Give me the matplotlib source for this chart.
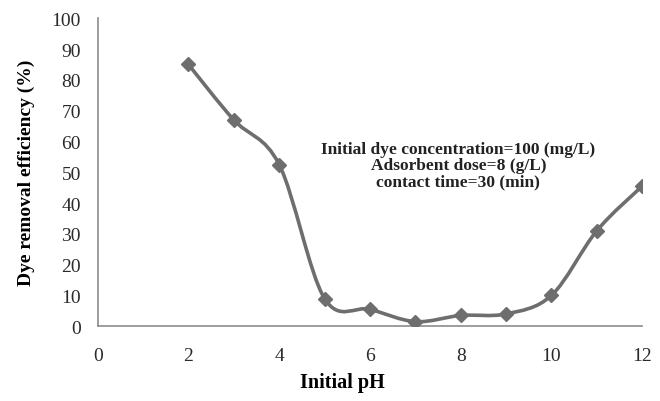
import numpy as np
import matplotlib
matplotlib.use("Agg")
import matplotlib.pyplot as plt
from matplotlib.path import Path
from matplotlib.patches import PathPatch

# data
ph = [2, 3, 4, 5, 6, 7, 8, 9, 10, 11, 12]
removal = [85, 67, 52.5, 9, 5.5, 1.5, 3.5, 4, 10, 31, 45.5]
x_ticks = [0, 2, 4, 6, 8, 10, 12]
y_ticks = [0, 10, 20, 30, 40, 50, 60, 70, 80, 90, 100]
note_lines = ["Initial dye concentration=100 (mg/L)",
              "Adsorbent dose=8 (g/L)",
              "contact time=30 (min)"]

plt.rcParams['font.family'] = ['Liberation Serif', 'DejaVu Serif']
line_color = '#6e6e6e'


def smooth_path(xs, ys):
    # Excel-like smoothed line: cubic Bezier segments through the points
    pts = np.column_stack([xs, ys]).astype(float)
    n = len(pts)
    verts = [pts[0]]
    codes = [Path.MOVETO]
    for i in range(n - 1):
        p0 = pts[i - 1] if i > 0 else pts[i]
        p1 = pts[i]
        p2 = pts[i + 1]
        p3 = pts[i + 2] if i + 2 < n else pts[i + 1]
        c1 = p1 + (p2 - p0) / 6.0
        c2 = p2 - (p3 - p1) / 6.0
        verts += [c1, c2, p2]
        codes += [Path.CURVE4] * 3
    return Path(verts, codes)


fig = plt.figure(figsize=(6.6, 4.02), dpi=100)
ax = fig.add_axes([0.148, 0.186, 0.825, 0.766])

ax.add_patch(PathPatch(smooth_path(ph, removal), facecolor='none',
                       edgecolor=line_color, linewidth=2.6, zorder=2))
ax.plot(ph, removal, linestyle='none', marker='D', markersize=7,
        color=line_color, zorder=3)

ax.set_xlim(0, 12)
ax.set_ylim(0, 100)
ax.set_xticks(x_ticks)
ax.set_yticks(y_ticks)
ax.tick_params(length=0, labelsize=14, colors='#2a2a2a')
ax.tick_params(axis='y', pad=12)
ax.tick_params(axis='x', pad=15)

for side in ['top', 'right']:
    ax.spines[side].set_visible(False)
for side in ['left', 'bottom']:
    ax.spines[side].set_color('#8c8c8c')
    ax.spines[side].set_linewidth(1.2)

ax.set_xlabel("Initial pH", fontsize=14.5, fontweight='bold', va='center')
ax.xaxis.set_label_coords(0.45, -0.182)
ax.set_ylabel("Dye removal efficiency (%)", fontsize=14, fontweight='bold', labelpad=12)

ax.text(7.95, 52.3, "\n".join(note_lines), ha='center', va='center',
        fontsize=12.5, fontweight='bold', color='#222222', linespacing=1.05)

fig.savefig("out.png", dpi=100)
